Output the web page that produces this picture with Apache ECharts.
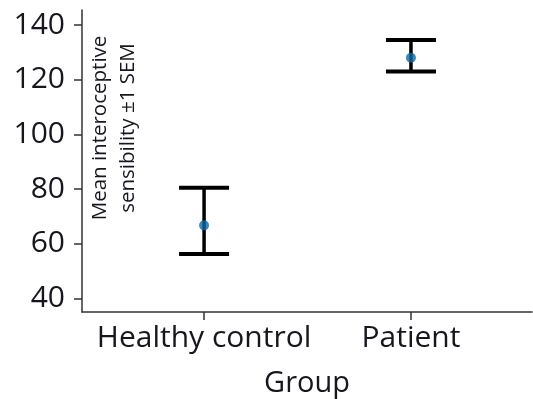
<!DOCTYPE html>
<html><head><meta charset="utf-8">
<script src="https://cdn.jsdelivr.net/npm/echarts@6/dist/echarts.min.js"></script>
<style>html,body{margin:0;padding:0;background:#fff}#c{width:533px;height:399px}</style>
</head><body><div id="c"></div>
<script>
const groups = ['Healthy control', 'Patient'];
const groupPos = [1, 2];
const means = [66.7, 128.0];
const upper = [80.5, 134.5];
const lower = [56.2, 123.0];
const yTicks = [40, 60, 80, 100, 120, 140];
const yTitle = 'Mean interoceptive\nsensibility \u00b11 SEM';
const xTitle = 'Group';

const chart = echarts.init(document.getElementById('c'), null, {renderer: 'canvas'});
const font = '"Open Sans", sans-serif';
const axisCol = '#333';
const textCol = '#16161f';

chart.setOption({
  animation: false,
  backgroundColor: '#fff',
  grid: {left: 82, right: 1, top: 10, bottom: 87, outerBoundsMode: 'none', containLabel: false},
  xAxis: {
    type: 'value', min: 0.41, max: 2.585,
    axisLine: {show: true, lineStyle: {color: axisCol, width: 1.5}},
    axisTick: {show: true, length: 8, customValues: groupPos, lineStyle: {color: axisCol, width: 1.5}},
    axisLabel: {customValues: groupPos, formatter: v => groups[groupPos.indexOf(v)] || '', fontFamily: font, fontSize: 30, color: textCol, margin: 11},
    splitLine: {show: false},
    name: xTitle, nameLocation: 'middle', nameGap: 57,
    nameTextStyle: {fontFamily: font, fontSize: 29, color: textCol}
  },
  yAxis: {
    type: 'value', min: 35, max: 145.5,
    axisLine: {show: true, lineStyle: {color: axisCol, width: 1.5}},
    axisTick: {show: true, length: 8, customValues: yTicks, lineStyle: {color: axisCol, width: 1.5}},
    axisLabel: {customValues: yTicks, fontFamily: font, fontSize: 30, color: textCol, margin: 17},
    splitLine: {show: false}
  },
  graphic: [{
    type: 'text', x: 114, y: 128, rotation: Math.PI / 2,
    style: {text: yTitle, fontFamily: font, fontSize: 20.5, lineHeight: 28, fill: textCol, align: 'center', verticalAlign: 'middle'}
  }],
  series: [{
    type: 'custom',
    data: groupPos.map((p, i) => [p, lower[i], upper[i]]),
    renderItem: function (params, api) {
      const x = api.value(0);
      const lo = api.coord([x, api.value(1)]);
      const hi = api.coord([x, api.value(2)]);
      const half = 25;
      const st = {stroke: '#000', lineWidth: 4};
      return {type: 'group', children: [
        {type: 'line', shape: {x1: lo[0], y1: lo[1], x2: hi[0], y2: hi[1]}, style: {stroke: '#000', lineWidth: 3.5}},
        {type: 'line', shape: {x1: hi[0] - half, y1: hi[1], x2: hi[0] + half, y2: hi[1]}, style: st},
        {type: 'line', shape: {x1: lo[0] - half, y1: lo[1], x2: lo[0] + half, y2: lo[1]}, style: st}
      ]};
    },
    z: 2
  }, {
    type: 'scatter',
    data: groupPos.map((p, i) => [p, means[i]]),
    symbolSize: 10,
    itemStyle: {color: '#0f6aa4'},
    z: 3
  }]
});
</script></body></html>
